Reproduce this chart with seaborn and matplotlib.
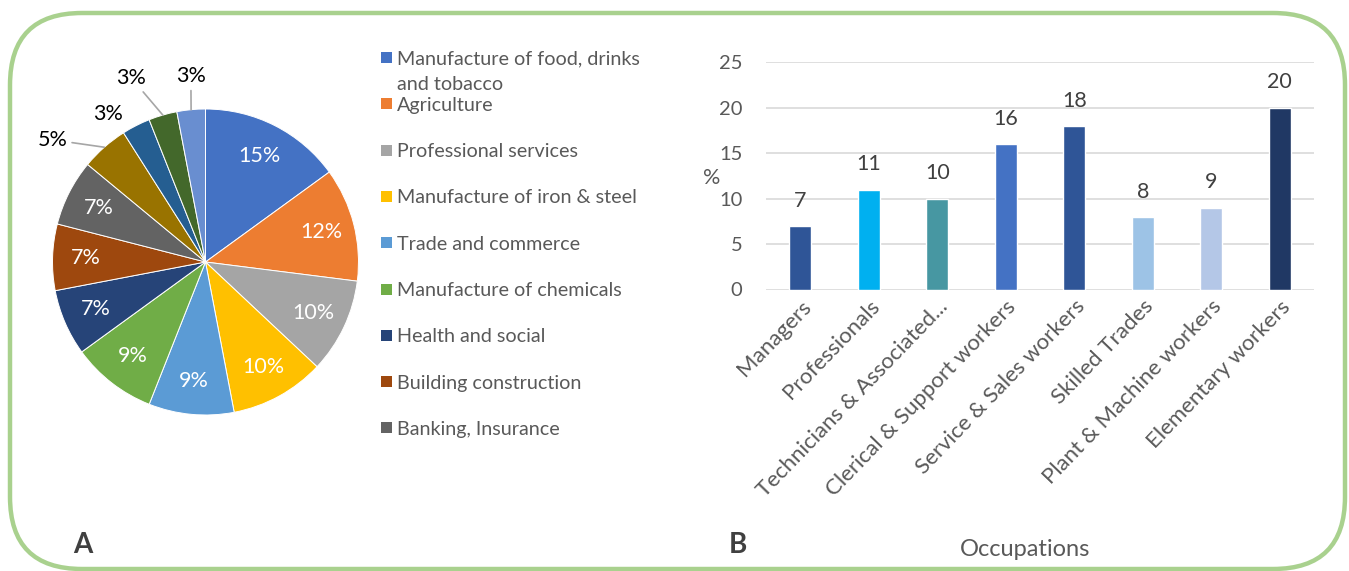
import matplotlib
matplotlib.use("Agg")
import matplotlib.pyplot as plt
import seaborn as sns
import numpy as np
import pandas as pd
from matplotlib.patches import FancyBboxPatch, Rectangle

# ---------------- data ----------------
sectors = ["Manufacture of food, drinks and tobacco", "Agriculture", "Professional services",
           "Manufacture of iron & steel", "Trade and commerce", "Manufacture of chemicals",
           "Health and social", "Building construction", "Banking, Insurance",
           "Other 1", "Other 2", "Other 3", "Other 4"]
sector_values = [15, 12, 10, 10, 9, 9, 7, 7, 7, 5, 3, 3, 3]
legend_labels = ["Manufacture of food, drinks\nand tobacco", "Agriculture", "Professional services",
                 "Manufacture of iron & steel", "Trade and commerce", "Manufacture of chemicals",
                 "Health and social", "Building construction", "Banking, Insurance"]
sector_colors = ["#4472C4", "#ED7D31", "#A5A5A5", "#FFC000", "#5B9BD5", "#70AD47",
                 "#264478", "#9E480E", "#636363", "#997300", "#255E91", "#43682B", "#698ED0"]

occupations = ["Managers", "Professionals", "Technicians & Associated...",
               "Clerical & Support workers", "Service & Sales workers", "Skilled Trades",
               "Plant & Machine workers", "Elementary workers"]
occupation_values = [7, 11, 10, 16, 18, 8, 9, 20]
occupation_colors = ["#2F5597", "#00B0F0", "#4797A2", "#4472C4", "#2F5597",
                     "#9DC3E6", "#B4C7E7", "#203864"]
y_ticks = [0, 5, 10, 15, 20, 25]

# outer label placement for small slices: (radius, angle offset deg, draw leader)
outer_label_pos = {9: (1.28, 10.0, True), 10: (1.16, 6.3, False),
                   11: (1.30, 5.8, True), 12: (1.22, -0.9, True)}

# ---------------- style ----------------
sns.set_theme(style="white")
plt.rcParams['font.family'] = ['Lato', 'DejaVu Sans']

W, H = 1349, 571
fig = plt.figure(figsize=(W / 100, H / 100), dpi=100)
fig.patch.set_facecolor("white")

# background axes in pixel coordinates for the rounded border
bg = fig.add_axes([0, 0, 1, 1], zorder=-1)
bg.set_xlim(0, W)
bg.set_ylim(H, 0)
bg.axis("off")
border = FancyBboxPatch((10, 13), 1335, 556, boxstyle="round,pad=0,rounding_size=72",
                        linewidth=3.2, edgecolor="#A9D18E", facecolor="none")
bg.add_patch(border)

def fx(px):
    return px / W

def fy(py):
    return 1 - py / H

# ---------------- pie ----------------
cx, cy, r = 205.5, 262, 153
pax = fig.add_axes([fx(cx - r), fy(cy + r), 2 * r / W, 2 * r / H])
wedges, texts, autotexts = pax.pie(
    sector_values, colors=sector_colors, startangle=90, counterclock=False,
    wedgeprops=dict(edgecolor="white", linewidth=0.7),
    autopct=lambda p: f"{p:.0f}%" if p >= 6 else "", pctdistance=0.78,
    textprops=dict(color="white", fontsize=15.5))
pax.set_xlim(-1, 1)
pax.set_ylim(-1, 1)
pax.set_aspect("equal")
pax.axis("off")

for i, (lr, off, leader) in outer_label_pos.items():
    w = wedges[i]
    mid = np.deg2rad((w.theta1 + w.theta2) / 2)
    ang = mid + np.deg2rad(off)
    tx, ty = lr * np.cos(ang), lr * np.sin(ang)
    if leader:
        pax.annotate(f"{sector_values[i]}%", xy=(np.cos(mid), np.sin(mid)), xytext=(tx, ty),
                     ha="center", va="center", fontsize=15.5, color="black",
                     arrowprops=dict(arrowstyle="-", color="#A6A6A6", lw=1.2,
                                     shrinkA=1, shrinkB=0),
                     annotation_clip=False)
    else:
        pax.text(tx, ty, f"{sector_values[i]}%", ha="center", va="center",
                 fontsize=15.5, color="black", clip_on=False)

# manual legend
leg_y0, leg_dy, line_gap = 57.5, 46.3, 26
for k, lab in enumerate(legend_labels):
    yy = leg_y0 + k * leg_dy
    bg.add_patch(Rectangle((380.5, yy - 5.5), 11, 11, facecolor=sector_colors[k], edgecolor="none"))
    for j, line in enumerate(lab.split("\n")):
        bg.text(397, yy + j * line_gap, line, ha="left", va="center_baseline", fontsize=14.2,
                color="#595959")

# ---------------- bars ----------------
bx0, bx1, by0, by1 = 766, 1314, 62.3, 289.5
bax = fig.add_axes([fx(bx0), fy(by1), (bx1 - bx0) / W, (by1 - by0) / H])
df = pd.DataFrame({"occ": occupations, "val": occupation_values})
sns.barplot(data=df, x="occ", y="val", hue="occ", palette=occupation_colors,
            legend=False, width=0.32, ax=bax, saturation=1)
bax.set_ylim(0, 25)
bax.set_xlim(-0.5, len(occupations) - 0.5)
bax.set_yticks(y_ticks)
bax.yaxis.grid(True, color="#D9D9D9", linewidth=1.2)
bax.set_axisbelow(True)
for s in bax.spines.values():
    s.set_visible(False)
bax.set_xlabel("")
bax.set_ylabel("")
bax.tick_params(axis="y", length=0, pad=17, labelsize=14.5, labelcolor="#595959")
bax.tick_params(axis="x", length=0, pad=5, labelsize=16, labelcolor="#595959")
bax.set_xticks(range(len(occupations)))
bax.set_xticklabels(occupations, rotation=46, ha="right", rotation_mode="anchor")
for cont in bax.containers:
    bax.bar_label(cont, fmt="%d", padding=11, fontsize=15.5, color="#404040")

fig.text(fx(712), fy(178), "%", fontsize=15.5, color="#595959", ha="center", va="center")
fig.text(fx(1025), fy(550), "Occupations", fontsize=17, color="#595959", ha="center", va="center")
fig.text(fx(83), fy(545), "A", fontsize=20, fontweight="bold", color="#404040", ha="center", va="center")
fig.text(fx(738), fy(545), "B", fontsize=20, fontweight="bold", color="#404040", ha="center", va="center")

fig.savefig("out.png", dpi=100, facecolor="white")
